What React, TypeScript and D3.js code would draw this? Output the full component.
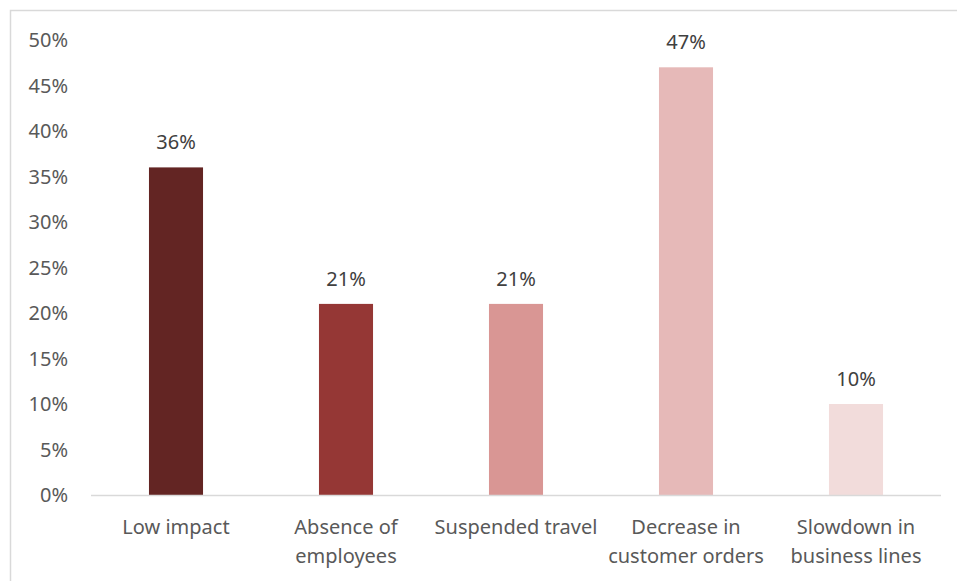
import React from "react";
import * as d3 from "d3";

const categories: string[][] = [
  ["Low impact"],
  ["Absence of", "employees"],
  ["Suspended travel"],
  ["Decrease in", "customer orders"],
  ["Slowdown in", "business lines"],
];
const values: number[] = [36, 21, 21, 47, 10];
const colors: string[] = ["#632523", "#953735", "#D99694", "#E6B9B8", "#F2DCDB"];
const yTicks: number[] = [0, 5, 10, 15, 20, 25, 30, 35, 40, 45, 50];

const W = 957;
const H = 581;
const left = 91;
const right = 941;
const top = 40;
const bottom = 495;
const FONT = "'Noto Sans', sans-serif";
const TEXT = "#595959";
const FS = 20;

export default function App() {
  const idx = values.map((_, i) => String(i));
  const x = d3.scaleBand<string>().domain(idx).range([left, right]).paddingInner(0.682).paddingOuter(0.341);
  const y = d3.scaleLinear().domain([0, 50]).range([bottom, top]);
  return (
    <svg
      width={W}
      height={H}
      style={{ position: "absolute", left: 0, top: 0, background: "#fff" }}
      fontFamily={FONT}
    >
      <rect x={10.5} y={10.5} width={1000} height={1000} fill="#fff" stroke="#D9D9D9" strokeWidth={1.5} />
      {yTicks.map((t) => (
        <text key={t} x={68} y={y(t)} dy="0.35em" textAnchor="end" fontSize={FS} fill={TEXT}>
          {t}%
        </text>
      ))}
      {values.map((v, i) => (
        <g key={i}>
          <rect x={x(String(i))} y={y(v)} width={x.bandwidth()} height={y(0) - y(v)} fill={colors[i]} />
          <text x={(x(String(i)) as number) + x.bandwidth() / 2} y={y(v) - 18} textAnchor="middle" fontSize={FS} fill="#404040">
            {v}%
          </text>
          {categories[i].map((line, j) => (
            <text key={j} x={(x(String(i)) as number) + x.bandwidth() / 2} y={534 + j * 29} textAnchor="middle" fontSize={FS} fill={TEXT}>
              {line}
            </text>
          ))}
        </g>
      ))}
      <line x1={left} x2={right} y1={bottom + 0.5} y2={bottom + 0.5} stroke="#D9D9D9" strokeWidth={1.5} />
    </svg>
  );
}
